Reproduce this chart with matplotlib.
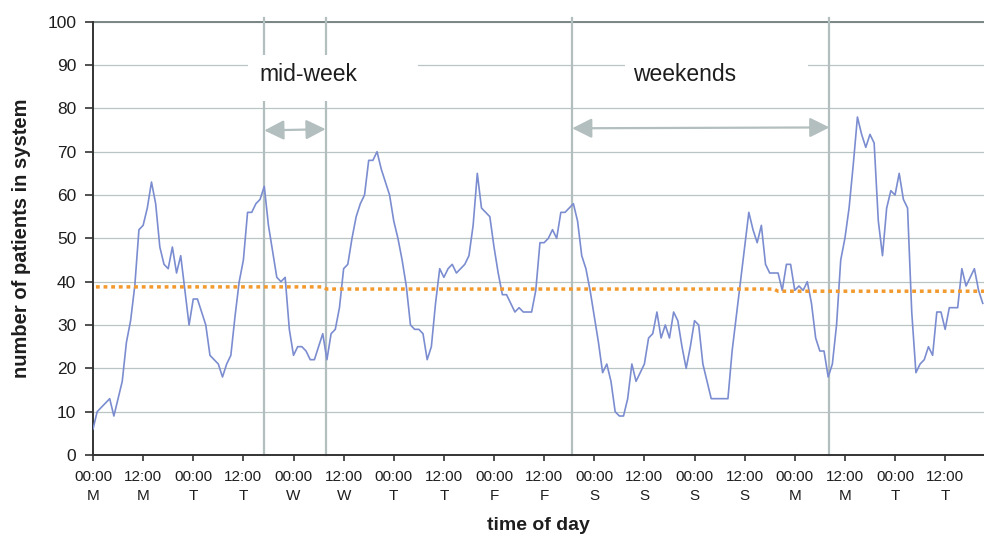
import matplotlib
matplotlib.use('Agg')
import matplotlib.pyplot as plt
from matplotlib.patches import Rectangle
import numpy as np

plt.rcParams['font.family'] = ['Liberation Sans', 'DejaVu Sans']

# hourly number of patients in the system, Monday 00:00 onwards
patients = [
    6, 10, 11, 12, 13, 9, 13, 17, 26, 31, 39, 52,
    53, 57, 63, 58, 48, 44, 43, 48, 42, 46, 38, 30,
    36, 36, 33, 30, 23, 22, 21, 18, 21, 23, 32, 40,
    45, 56, 56, 58, 59, 62, 53, 47, 41, 40, 41, 29,
    23, 25, 25, 24, 22, 22, 25, 28, 22, 28, 29, 34,
    43, 44, 50, 55, 58, 60, 68, 68, 70, 66, 63, 60,
    54, 50, 45, 39, 30, 29, 29, 28, 22, 25, 35, 43,
    41, 43, 44, 42, 43, 44, 46, 53, 65, 57, 56, 55,
    48, 42, 37, 37, 35, 33, 34, 33, 33, 33, 38, 49,
    49, 50, 52, 50, 56, 56, 57, 58, 54, 46, 43, 38,
    32, 26, 19, 21, 17, 10, 9, 9, 13, 21, 17, 19,
    21, 27, 28, 33, 27, 30, 27, 33, 31, 25, 20, 25,
    31, 30, 21, 17, 13, 13, 13, 13, 13, 24, 32, 40,
    48, 56, 52, 49, 53, 44, 42, 42, 42, 38, 44, 44,
    38, 39, 38, 40, 35, 27, 24, 24, 18, 21, 30, 45,
    50, 57, 67, 78, 74, 71, 74, 72, 54, 46, 57, 61,
    60, 65, 59, 57, 33, 19, 21, 22, 25, 23, 33, 33,
    29, 34, 34, 34, 43, 39, 41, 43, 38, 35,
]

# running average level and the hours where it steps down
mean_levels = [38.8, 38.3, 37.8]
mean_steps = [55, 163]

tick_times = ['00:00', '12:00'] * 9
tick_days = ['M', 'M', 'T', 'T', 'W', 'W', 'T', 'T', 'F', 'F',
             'S', 'S', 'S', 'S', 'M', 'M', 'T', 'T']

# period boundaries (hour index)
midweek = (41.0, 55.7)
weekends = (114.7, 176.3)

hours = np.arange(len(patients))
x_end = 213.3

fig = plt.figure(figsize=(9.84, 5.35), dpi=100)
ax = fig.add_axes([93 / 984, 80 / 535, 891 / 984, 433.3 / 535])

grey = '#b3bebe'
txt = '#1e1e1e'

ax.set_xlim(0, x_end)
ax.set_ylim(0, 100)
ax.set_yticks(range(0, 101, 10))
ax.yaxis.grid(True, color='#b9c4c4', lw=0.9)
ax.set_axisbelow(True)
ax.axhline(100, color='#7a8585', lw=1.4, clip_on=False, zorder=1)

for s in ['top', 'right']:
    ax.spines[s].set_visible(False)
for s in ['left', 'bottom']:
    ax.spines[s].set_color('#333333')
    ax.spines[s].set_linewidth(1.4)

# period boundary lines
for h in midweek + weekends:
    ax.plot([h, h], [0, 100.8], color=grey, lw=1.6, clip_on=False, zorder=1.5)

# white label boxes
ax.add_patch(Rectangle((37.1, 81.6), 40.7, 10.8, facecolor='white',
                       edgecolor='none', zorder=2))
ax.add_patch(Rectangle((127.4, 81.6), 43.8, 10.8, facecolor='white',
                       edgecolor='none', zorder=2))
ax.text(51.5, 86.4, 'mid-week', ha='center', va='baseline', fontsize=16.5,
        color=txt, zorder=3)
ax.text(141.6, 86.4, 'weekends', ha='center', va='baseline', fontsize=16.5,
        color=txt, zorder=3)

arrow = dict(arrowstyle='<|-|>', color=grey, lw=1.6, mutation_scale=30,
             shrinkA=0, shrinkB=0)
ax.annotate('', xy=(midweek[1], 75.2), xytext=(midweek[0], 74.9),
            arrowprops=arrow, zorder=3)
ax.annotate('', xy=(weekends[1], 75.6), xytext=(weekends[0], 75.4),
            arrowprops=arrow, zorder=3)

# data
ax.plot(hours, patients, color='#7b8dd0', lw=1.2, zorder=4)

mx = [0.7]
my = [mean_levels[0]]
for st, lv_prev, lv in zip(mean_steps, mean_levels[:-1], mean_levels[1:]):
    mx += [st, st + 1]
    my += [lv_prev, lv]
mx.append(x_end)
my.append(mean_levels[-1])
ax.plot(mx, my, color='#f39a2e', lw=2.5, linestyle=(0, (1.1, 1.1)),
        zorder=5, clip_on=False)

# ticks
ax.set_xticks(np.arange(0, 205, 12))
ax.set_xticklabels([f'{t}\n{d}' for t, d in zip(tick_times, tick_days)])
for lbl in ax.get_xticklabels():
    lbl.set_linespacing(1.45)
ax.tick_params(axis='x', length=4, width=1.2, color='#333333', pad=7,
               labelsize=11, labelcolor=txt)
ax.tick_params(axis='y', length=6, width=1.2, color='#333333', pad=6,
               labelsize=12.5, labelcolor=txt)

ax.set_xlabel('time of day', fontsize=14, fontweight='bold', color=txt,
              labelpad=10)
ax.set_ylabel('number of patients in system', fontsize=14.5,
              fontweight='bold', color=txt, labelpad=12)

fig.savefig('out.png', dpi=100)
